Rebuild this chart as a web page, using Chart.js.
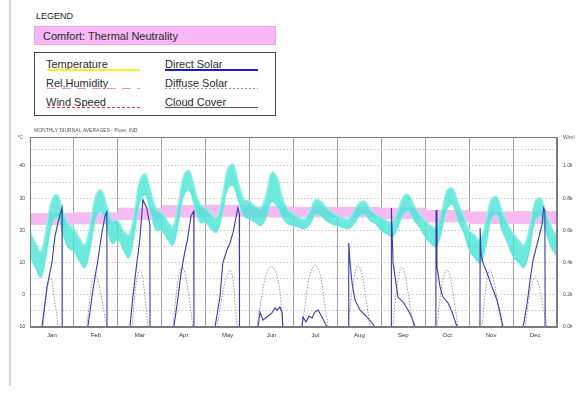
<!DOCTYPE html>
<html>
<head>
<meta charset="utf-8">
<script src="https://cdn.jsdelivr.net/npm/chart.js@4.4.0/dist/chart.umd.min.js"></script>
<style>
    body { margin: 0; background: #fff; font-family: "Liberation Sans", Arial, sans-serif; color: #222; }
    #pagina { position: relative; width: 577px; height: 395px; overflow: hidden; }
    .abs { position: absolute; white-space: nowrap; }
    .texto { font-size: 11px; line-height: 12px; color: #2a2a2a; }
</style>
</head>
<body>
<div id="pagina">
    <div class="abs" style="left:9px;top:0;width:2px;height:386px;background:#d2d2d2"></div>

    <!-- Leyenda -->
    <div class="abs" style="left:36px;top:11px;font-size:9px;line-height:10px">LEGEND</div>
    <div class="abs texto" style="left:34px;top:26px;width:240px;height:17px;background:#f8b8f6;border:1px solid #eaa4ea">
        <span style="position:absolute;left:8px;top:3px">Comfort: Thermal Neutrality</span>
    </div>
    <div class="abs" style="left:34px;top:52px;width:240px;height:62px;border:1px solid #444"></div>

    <div class="abs texto" style="left:46px;top:58px">Temperature</div>
    <div class="abs" style="left:47px;top:69px;width:93px;height:2px;background:#f2f224"></div>
    <div class="abs texto" style="left:165px;top:58px">Direct Solar</div>
    <div class="abs" style="left:165px;top:69px;width:93px;height:2px;background:#1c1cc0"></div>

    <div class="abs texto" style="left:46px;top:77px">Rel.Humidity</div>
    <div class="abs" style="left:47px;top:88px;width:93px;height:1px;background:repeating-linear-gradient(90deg,#e28ee0 0 9px,transparent 9px 15px)"></div>
    <div class="abs texto" style="left:165px;top:77px">Diffuse Solar</div>
    <div class="abs" style="left:165px;top:88px;width:93px;height:1px;background:repeating-linear-gradient(90deg,#9494aa 0 2px,transparent 2px 4px)"></div>

    <div class="abs texto" style="left:46px;top:96px">Wind Speed</div>
    <div class="abs" style="left:47px;top:107px;width:93px;height:1px;background:repeating-linear-gradient(90deg,#e03434 0 3px,transparent 3px 5px)"></div>
    <div class="abs texto" style="left:165px;top:96px">Cloud Cover</div>
    <div class="abs" style="left:165px;top:107px;width:93px;height:1px;background:#555"></div>

    <canvas id="grafica" width="577" height="230" style="position:absolute;left:0;top:120px"></canvas>
</div>

<script>
// ================= DATOS =================

const meses = ["Jan", "Feb", "Mar", "Apr", "May", "Jun", "Jul", "Aug", "Sep", "Oct", "Nov", "Dec"];

// Horas del perfil diario de temperatura
const horas = [0, 3, 6, 9, 12, 15, 18, 21];

// Marcas de los ejes
const ticksTemp = [-10, -5, 0, 5, 10, 15, 20, 25, 30, 35, 40, 45];
const ticksW = [0, 200, 400, 600, 800, 1000];

// Banda de temperatura (°C): borde inferior y superior por mes
const tempMin = [
    [12, 8.5, 5.5, 13, 22, 24, 19, 14.5],
    [13.5, 10.5, 8.5, 15, 24, 26, 21, 16],
    [17, 14, 11.5, 19, 29, 31, 25.5, 20],
    [20, 17.5, 15.5, 22, 31, 32.5, 27.5, 22.5],
    [22.5, 20.5, 19.5, 25, 33, 34, 29, 24.5],
    [23.5, 22.5, 21.5, 24, 29, 27.5, 24, 22],
    [21.5, 21, 20.5, 22, 25, 24.5, 23, 22],
    [21.5, 21, 20.5, 22, 24.5, 25, 23, 22],
    [20, 19, 18, 21, 25, 26, 23, 21],
    [18, 16, 15, 20, 27, 28, 23, 19.5],
    [14, 11.5, 10, 15, 23.5, 25, 20, 16],
    [12, 10, 8.5, 14, 23, 24.5, 19.5, 14.5]
];
const tempMax = [
    [19.5, 16, 13.5, 21, 29.5, 31, 26, 22],
    [20.5, 17.5, 15.5, 22, 31, 32.5, 27.5, 23],
    [23, 20, 18.5, 25.5, 35.5, 37.5, 32, 26.5],
    [25.5, 23, 21, 28, 37, 38.5, 33, 28],
    [27, 25, 24, 30, 39, 40.5, 34.5, 29.5],
    [29, 27.5, 27, 31, 38, 36.5, 30, 26.5],
    [25, 24, 23.5, 26, 29.5, 29, 27, 25.5],
    [24.5, 24, 23.5, 26, 28.5, 29, 26.5, 25],
    [24, 23, 22.5, 26, 30.5, 31, 27.5, 25],
    [23, 21.5, 21, 26, 32.5, 33, 28.5, 24.5],
    [20, 18.5, 17, 22.5, 29.5, 30.5, 26, 22],
    [19, 17, 15.5, 21, 29, 30, 25.5, 21]
];
// Hora 24 de diciembre
const tempFinMin = 12;
const tempFinMax = 18;

// Neutralidad térmica (°C)
const confortMin = [21.7, 21.9, 23.2, 24, 24.2, 24, 24, 24, 23.5, 22.5, 22, 22];
const confortMax = [25.4, 25.6, 27, 27.9, 28, 27.5, 27.3, 27.3, 27, 26.3, 25.9, 26];

// Radiación directa (W/m²): [hora, valor] por mes
const solarDirecta = [
    [[6.5, 0], [9.3, 250], [12, 400], [13.6, 560], [15.3, 650], [17.5, 740], [17.6, 0]],
    [[7.6, 0], [10.4, 230], [13.1, 416], [15.3, 584], [16.9, 683], [18, 714], [18.1, 0]],
    [[6.6, 0], [8.2, 186], [10.4, 398], [12, 540], [13.7, 789], [15.8, 739], [17.5, 634], [17.6, 0]],
    [[6.6, 0], [8.5, 150], [10.5, 330], [12.5, 460], [14, 540], [16, 690], [17.5, 720], [17.6, 0]],
    [[5.1, 0], [7.8, 186], [9.4, 398], [11.6, 478], [13.3, 522], [14.9, 584], [17.6, 739], [18.4, 700], [18.5, 0]],
    [[4.6, 0], [5.7, 93], [7.3, 43], [9.5, 62], [12.2, 87], [13.9, 118], [15, 105], [16.6, 124], [17.7, 93], [18.2, 0]],
    [[4.6, 0], [5.2, 62], [6.8, 31], [8.5, 68], [10.1, 56], [11.7, 93], [13.4, 106], [15.6, 62], [17.2, 25], [18.3, 0]],
    [[6.1, 0], [6.2, 522], [6.9, 398], [8, 273], [9.6, 168], [12.3, 106], [16.2, 62], [18.9, 25], [20.5, 0]],
    [[5.4, 0], [5.5, 739], [6.4, 398], [7.5, 310], [9.1, 186], [11.9, 155], [14.6, 106], [16.8, 56], [18.4, 0]],
    [[5.8, 0], [5.9, 727], [6.4, 373], [8.1, 248], [9.7, 186], [12.5, 149], [14.6, 93], [17.4, 0]],
    [[5.9, 0], [6, 615], [6.5, 450], [7.6, 398], [9.8, 335], [12.5, 248], [15.2, 168], [16.9, 87], [18.5, 0]],
    [[5.5, 0], [7.7, 149], [9.3, 292], [10.9, 416], [13.7, 540], [15.8, 634], [16.7, 739], [17.4, 720], [17.5, 0]]
];

// Radiación difusa (W/m²): [hora, valor] por mes
const solarDifusa = [
    [[7.1, 0], [8.5, 150], [9.8, 260], [10.9, 304], [12, 280], [13.1, 200], [14.3, 100], [15.3, 0]],
    [[7.1, 0], [8.6, 160], [10, 280], [11.5, 323], [13, 290], [14.8, 200], [16.5, 90], [18, 0]],
    [[7.8, 0], [9, 170], [10.6, 310], [12.1, 354], [13.6, 300], [15, 170], [16.5, 0]],
    [[6.1, 0], [7.6, 170], [9.4, 320], [11, 373], [12.8, 330], [15, 180], [17, 0]],
    [[6.2, 0], [8, 120], [10, 250], [12, 330], [13.3, 354], [14.8, 300], [16, 160], [17, 0]],
    [[4, 0], [6.8, 200], [9.5, 340], [12.2, 373], [15, 320], [17.2, 150], [18.2, 0]],
    [[4.6, 0], [6.5, 150], [8.5, 300], [11.7, 385], [14.5, 330], [16.8, 160], [18.9, 0]],
    [[5.8, 0], [7.5, 180], [9.5, 330], [11.3, 385], [13.5, 320], [15.8, 160], [17.8, 0]],
    [[6.4, 0], [7.8, 180], [9.5, 320], [11.1, 373], [12.8, 330], [14.5, 220], [16.3, 90], [17.9, 0]],
    [[6.4, 0], [8, 170], [10, 310], [11.9, 354], [13.8, 300], [15.8, 160], [17.9, 0]],
    [[7, 0], [8.5, 180], [10, 310], [11.4, 354], [13.2, 300], [15.5, 150], [18, 0]],
    [[6.6, 0], [8.5, 160], [10.3, 270], [12, 304], [14, 260], [16.3, 130], [18.6, 0]]
];

const tituloGrafica = "MONTHLY DIURNAL AVERAGES - Pune, IND";

// ================= SERIES =================

// Perfil de temperatura continuo (hora del año)
function serieTemperatura(valores, valorFinal) {
    const puntos = [];
    valores.forEach((mes, m) => {
        mes.forEach((v, k) => puntos.push({ x: m * 24 + horas[k], y: v }));
    });
    puntos.push({ x: 288, y: valorFinal });
    return puntos;
}

// Curvas solares: una por mes, cortadas con null
function serieSolar(datosMes) {
    const puntos = [];
    datosMes.forEach((mes, m) => {
        mes.forEach(([h, w]) => puntos.push({ x: m * 24 + h, y: w }));
        puntos.push({ x: m * 24 + 23, y: null });
    });
    return puntos;
}

// Banda escalonada de confort
function serieConfort(valores) {
    const puntos = valores.map((v, m) => ({ x: m * 24, y: v }));
    puntos.push({ x: 288, y: valores[valores.length - 1] });
    return puntos;
}

// ================= GRÁFICA =================

const fuente = "Liberation Sans";

// Marco del área y textos pequeños
const marcoYTextos = {
    id: "marcoYTextos",
    afterDraw(chart) {
        const { ctx, chartArea: a } = chart;
        ctx.save();
        ctx.strokeStyle = "#7c7c7c";
        ctx.lineWidth = 1;
        ctx.strokeRect(a.left + 0.5, a.top + 0.5, a.width - 1, a.height - 1);

        ctx.fillStyle = "#555";
        ctx.font = "5px " + fuente;
        ctx.textBaseline = "middle";
        ctx.textAlign = "left";
        ctx.fillText(tituloGrafica, a.left + 4, a.top - 6);
        ctx.fillText("W/m²", a.right + 6, a.top + 1);
        ctx.textAlign = "right";
        ctx.fillText("°C", a.left - 7, a.top + 1);
        ctx.restore();
    }
};

const ctx = document.getElementById("grafica").getContext("2d");

new Chart(ctx, {
    type: "line",
    data: {
        datasets: [
            {
                label: "Direct Solar",
                data: serieSolar(solarDirecta),
                yAxisID: "yW",
                borderColor: "#3a3aa0",
                borderWidth: 1.1,
                tension: 0,
                pointRadius: 0,
                fill: false
            },
            {
                label: "Diffuse Solar",
                data: serieSolar(solarDifusa),
                yAxisID: "yW",
                borderColor: "#9494aa",
                borderWidth: 1,
                borderDash: [1.5, 1.5],
                tension: 0.4,
                pointRadius: 0,
                fill: false
            },
            {
                label: "Temperature",
                data: serieTemperatura(tempMax, tempFinMax),
                yAxisID: "y",
                borderColor: "#8ef0e6",
                borderWidth: 1.5,
                backgroundColor: "rgba(72, 228, 214, 0.8)",
                fill: "+1",
                tension: 0.4,
                pointRadius: 0
            },
            {
                label: "Temperature min",
                data: serieTemperatura(tempMin, tempFinMin),
                yAxisID: "y",
                borderColor: "#8ef0e6",
                borderWidth: 1.5,
                fill: false,
                tension: 0.4,
                pointRadius: 0
            },
            {
                label: "Comfort",
                data: serieConfort(confortMax),
                yAxisID: "y",
                stepped: true,
                borderWidth: 0,
                borderColor: "rgba(0,0,0,0)",
                backgroundColor: "#f6bcf2",
                fill: "+1",
                pointRadius: 0
            },
            {
                label: "Comfort min",
                data: serieConfort(confortMin),
                yAxisID: "y",
                stepped: true,
                borderWidth: 0,
                borderColor: "rgba(0,0,0,0)",
                fill: false,
                pointRadius: 0
            }
        ]
    },
    options: {
        responsive: false,
        animation: false,
        devicePixelRatio: 1,
        layout: { padding: { top: 17, left: 0, right: 0, bottom: 0 } },
        plugins: {
            legend: { display: false },
            tooltip: { enabled: false }
        },
        scales: {
            x: {
                type: "linear",
                min: 0,
                max: 288,
                afterFit: (eje) => { eje.height = 23; },
                ticks: {
                    stepSize: 12,
                    autoSkip: false,
                    maxRotation: 0,
                    padding: 5,
                    color: "#333",
                    font: { family: fuente, size: 6 },
                    callback: (v) => (v % 24 === 12 ? meses[(v - 12) / 24] : "")
                },
                grid: {
                    drawTicks: false,
                    lineWidth: 1,
                    color: (c) => (c.tick && c.tick.value % 24 === 0 ? "#a2a2a2" : "rgba(0,0,0,0)")
                },
                border: { color: "#7c7c7c" }
            },
            y: {
                position: "left",
                min: -10,
                max: 49,
                afterFit: (eje) => { eje.width = 30; },
                afterBuildTicks: (eje) => { eje.ticks = ticksTemp.map((v) => ({ value: v })); },
                ticks: {
                    autoSkip: false,
                    padding: 5,
                    color: "#444",
                    font: { family: fuente, size: 5 },
                    callback: (v) => (v % 10 === 0 ? v : "")
                },
                grid: { drawTicks: false, color: "#c6c6c6", lineWidth: 1 },
                border: { color: "#7c7c7c", dash: [1.5, 2] }
            },
            yW: {
                position: "right",
                min: 0,
                max: 1180,
                afterFit: (eje) => { eje.width = 20; },
                afterBuildTicks: (eje) => { eje.ticks = ticksW.map((v) => ({ value: v })); },
                ticks: {
                    autoSkip: false,
                    padding: 6,
                    color: "#444",
                    font: { family: fuente, size: 5 },
                    callback: (v) => (v / 1000).toFixed(1) + "k"
                },
                grid: { display: false, drawTicks: false },
                border: { color: "#7c7c7c" }
            }
        }
    },
    plugins: [marcoYTextos]
});
</script>
</body>
</html>
